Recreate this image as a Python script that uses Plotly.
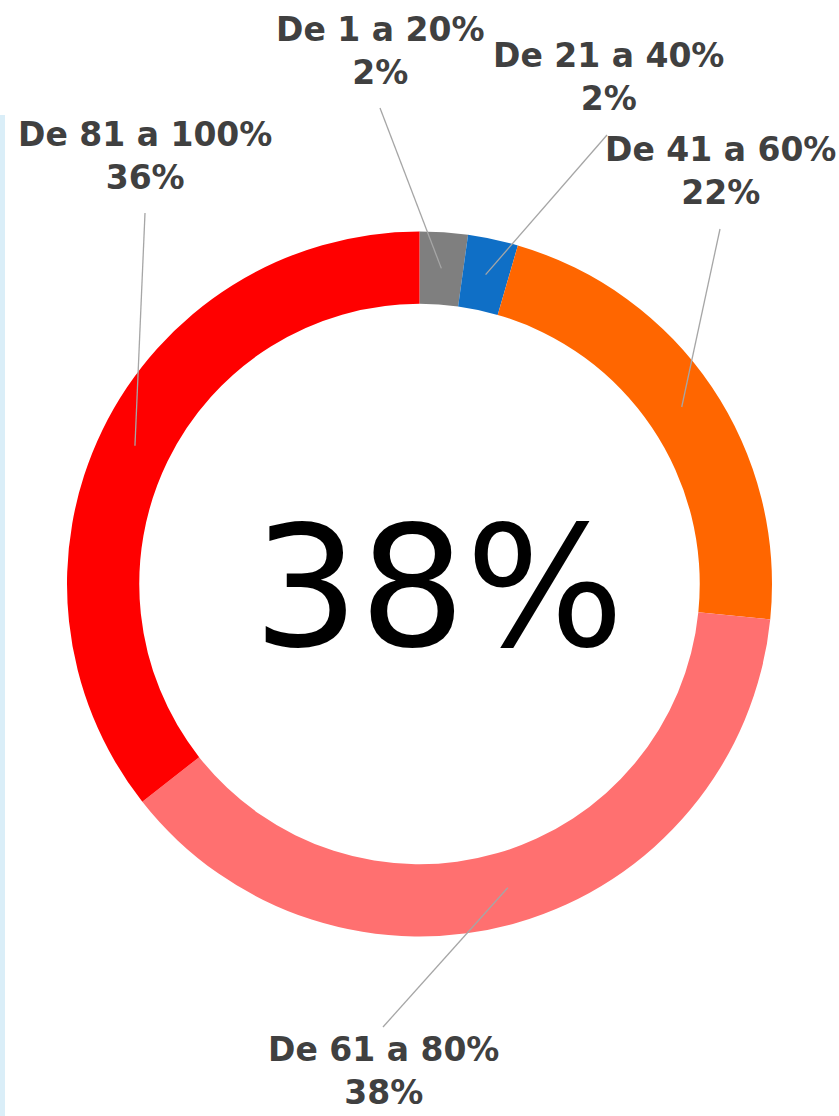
import math
import plotly.graph_objects as go

# ---- data ----
categories = ["De 1 a 20%", "De 21 a 40%", "De 41 a 60%", "De 61 a 80%", "De 81 a 100%"]
values = [2.2, 2.3, 22.1, 37.8, 35.6]
colors = ["#7f7f7f", "#0f6fc6", "#ff6600", "#ff7070", "#ff0000"]
center_label = "38%"

# ---- layout constants (pixels) ----
W, H = 839, 1116
CX, CY, R = 419.5, 584.0, 352.5
HOLE = 0.795
label_pos = [(380, 51), (608, 77), (720, 171), (383, 1071), (145, 156)]
line_end = [(380, 108), (607, 135), (720, 229), (383, 1027), (145, 213)]


def px(x):
    return x / W


def py(y):
    return 1 - y / H


fig = go.Figure()
fig.add_trace(go.Pie(
    labels=categories, values=values, hole=HOLE, sort=False,
    direction="clockwise", rotation=0,
    marker=dict(colors=colors, line=dict(width=0)),
    textinfo="none", hoverinfo="label+percent", showlegend=False,
    domain=dict(x=[px(CX - R), px(CX + R)], y=[py(CY + R), py(CY - R)]),
))

total = sum(values)
r_mid = R * (1 + HOLE) / 2
shapes = [dict(type="rect", xref="paper", yref="paper", x0=0, x1=px(5), y0=0, y1=py(115),
               fillcolor="#daeef8", line=dict(width=0), layer="below")]
annotations = []
cum = 0.0
for i, (cat, v) in enumerate(zip(categories, values)):
    mid = (cum + v / 2) / total
    cum += v
    ang = 2 * math.pi * mid
    x0 = CX + r_mid * math.sin(ang)
    y0 = CY - r_mid * math.cos(ang)
    ex, ey = line_end[i]
    shapes.append(dict(type="line", xref="paper", yref="paper",
                       x0=px(x0), y0=py(y0), x1=px(ex), y1=py(ey),
                       line=dict(color="#a6a6a6", width=1.3)))
    lx, ly = label_pos[i]
    pct = round(v / total * 100)
    annotations.append(dict(
        x=px(lx), y=py(ly), xref="paper", yref="paper", showarrow=False,
        xanchor="center", yanchor="middle", align="center",
        text=f"{cat}<br>{pct}%",
        font=dict(family="DejaVu Sans", size=33, color="#404040", weight="bold"),
    ))

annotations.append(dict(
    x=px(438), y=py(588), xref="paper", yref="paper", showarrow=False,
    xanchor="center", yanchor="middle", text=center_label,
    font=dict(family="DejaVu Sans", size=167, color="#000000"),
))

fig.update_layout(
    width=W, height=H, margin=dict(l=0, r=0, t=0, b=0),
    paper_bgcolor="white", plot_bgcolor="white",
    shapes=shapes, annotations=annotations,
)

fig.write_html("out.html", config={"displayModeBar": False},
               post_script="document.body.style.margin='0';document.body.style.overflow='hidden';")
